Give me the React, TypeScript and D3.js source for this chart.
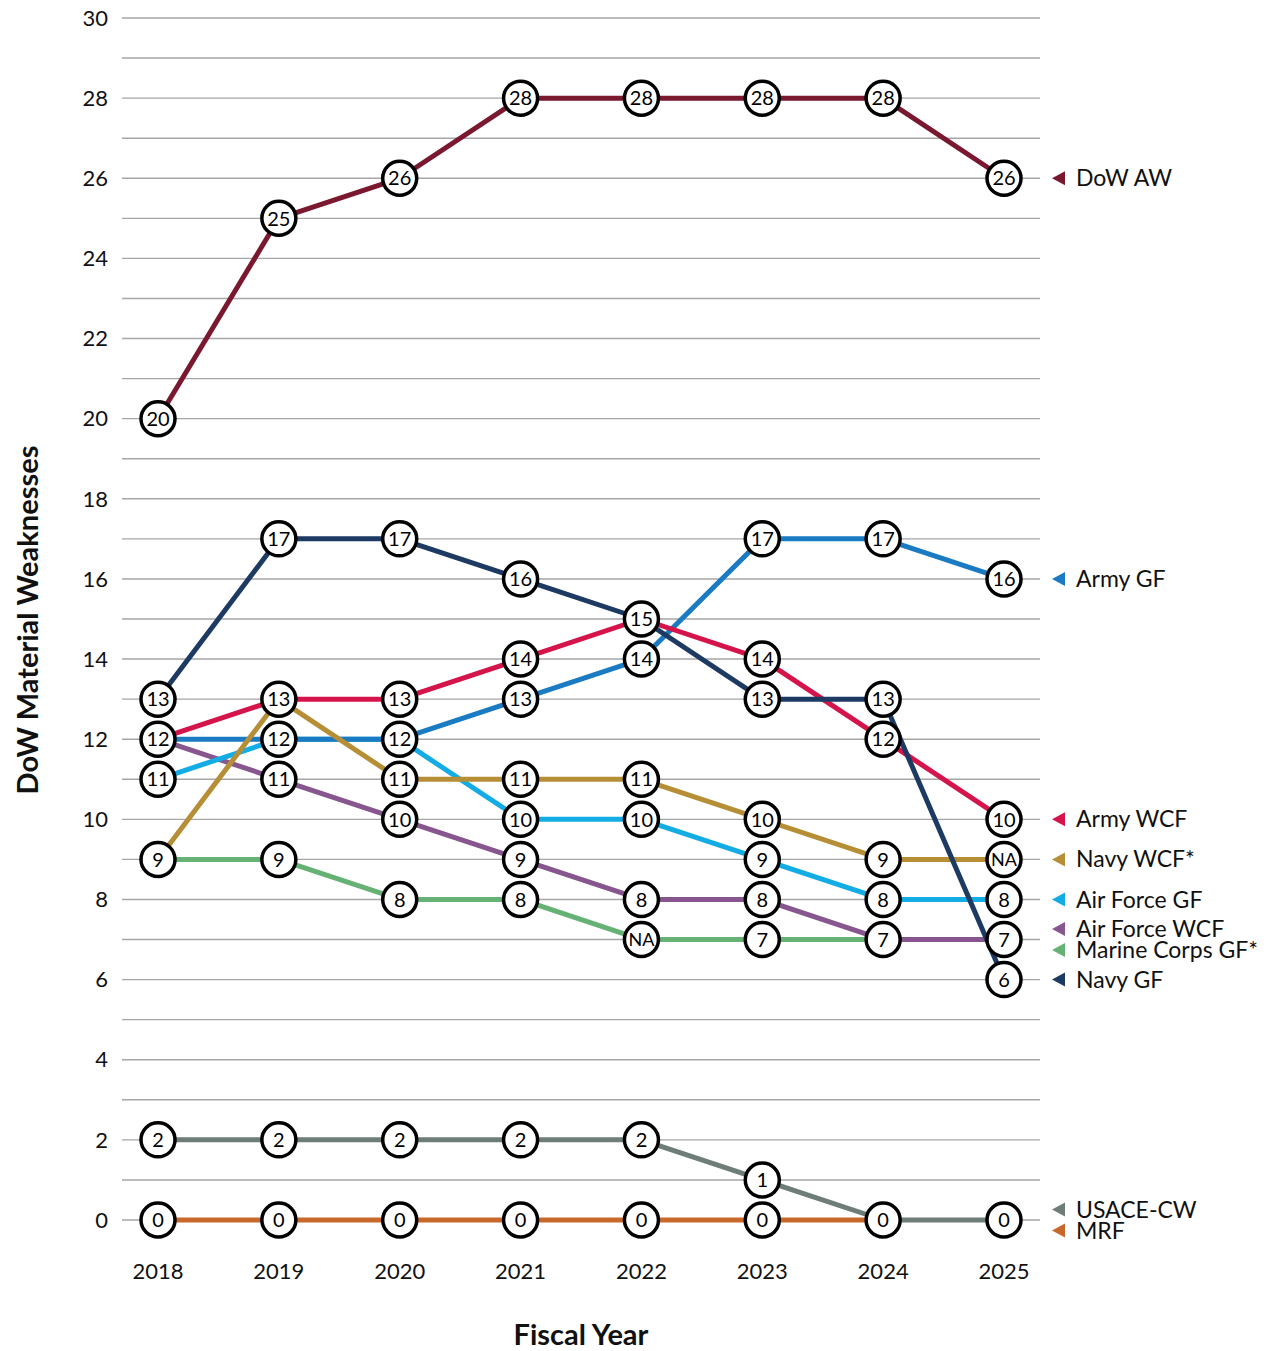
import { useMemo } from 'react';
import * as d3 from 'd3';

const years = [2018, 2019, 2020, 2021, 2022, 2023, 2024, 2025];

// drawn bottom to top
const seriesNames = [
  'USACE-CW',
  'MRF',
  'Marine Corps GF*',
  'Air Force WCF',
  'Air Force GF',
  'Army GF',
  'Navy WCF*',
  'Army WCF',
  'Navy GF',
  'DoW AW',
];

const seriesColors = [
  '#6E7D78',
  '#C8692B',
  '#66B275',
  '#87568E',
  '#13ACE4',
  '#1A7BC2',
  '#B58E36',
  '#D5144B',
  '#1D3A63',
  '#7A1830',
];

const seriesValues: (number | null)[][] = [
  [2, 2, 2, 2, 2, 1, 0, 0],
  [0, 0, 0, 0, 0, 0, 0, null],
  [9, 9, 8, 8, 7, 7, 7, null],
  [12, 11, 10, 9, 8, 8, 7, 7],
  [11, 12, 12, 10, 10, 9, 8, 8],
  [12, 12, 12, 13, 14, 17, 17, 16],
  [9, 13, 11, 11, 11, 10, 9, 9],
  [12, 13, 13, 14, 15, 14, 12, 10],
  [13, 17, 17, 16, 15, 13, 13, 6],
  [20, 25, 26, 28, 28, 28, 28, 26],
];

// points shown as "NA" instead of a number
const naPoints = [
  { series: 'Marine Corps GF*', year: 2022 },
  { series: 'Navy WCF*', year: 2025 },
];

// legend order, top to bottom
const legendOrder = [
  'DoW AW',
  'Army GF',
  'Army WCF',
  'Navy WCF*',
  'Air Force GF',
  'Air Force WCF',
  'Marine Corps GF*',
  'Navy GF',
  'USACE-CW',
  'MRF',
];

const yTicks = d3.range(0, 31, 2);
const gridValues = d3.range(0, 31, 1);

const W = 1267;
const H = 1351;
const FONT = 'Lato, "Open Sans", sans-serif';

export default function App() {
  const x = d3.scalePoint<number>().domain(years).range([158, 1004]);
  const y = d3.scaleLinear().domain([0, 30]).range([1220, 18]);

  const line = d3
    .line<number | null>()
    .defined((d) => d !== null)
    .x((_, i) => x(years[i]) as number)
    .y((d) => y(d as number));

  const markers = useMemo(() => {
    const seen = new Map<string, { year: number; value: number; label: string }>();
    seriesNames.forEach((name, si) => {
      seriesValues[si].forEach((v, i) => {
        if (v === null) return;
        const key = `${years[i]}-${v}`;
        const na = naPoints.some((p) => p.series === name && p.year === years[i]);
        const label = na ? 'NA' : String(v);
        if (!seen.has(key) || na) seen.set(key, { year: years[i], value: v, label });
      });
    });
    return [...seen.values()];
  }, []);

  const legend = useMemo(() => {
    const lastVal = (name: string) => {
      const vals = seriesValues[seriesNames.indexOf(name)].filter((v) => v !== null) as number[];
      return vals[vals.length - 1];
    };
    const groups = d3.group(legendOrder, lastVal);
    const out: { name: string; color: string; ly: number }[] = [];
    groups.forEach((names, v) => {
      const spacing = 21;
      names.forEach((n, k) => {
        out.push({
          name: n,
          color: seriesColors[seriesNames.indexOf(n)],
          ly: y(v) + (k - (names.length - 1) / 2) * spacing,
        });
      });
    });
    return out;
  }, []);

  return (
    <div style={{ position: 'absolute', left: 0, top: 0 }}>
      <svg width={W} height={H} style={{ display: 'block', background: '#fff' }} fontFamily={FONT}>
        {/* Grid */}
        {gridValues.map((g) => (
          <line key={g} x1={122} x2={1040} y1={y(g)} y2={y(g)} stroke="#A6A6A6" strokeWidth={1.4} />
        ))}

        {/* Y ticks */}
        {yTicks.map((t) => (
          <text key={t} x={108} y={y(t)} dy="0.35em" textAnchor="end" fontSize={22} fill="#111">
            {t}
          </text>
        ))}

        {/* X ticks */}
        {years.map((yr) => (
          <text key={yr} x={x(yr)} y={1271} dy="0.35em" textAnchor="middle" fontSize={22} fill="#111">
            {yr}
          </text>
        ))}

        {/* Axis titles */}
        <text
          transform={`translate(28,620) rotate(-90)`}
          textAnchor="middle"
          dy="0.35em"
          fontSize={29}
          fontWeight="bold"
          fill="#111"
        >
          DoW Material Weaknesses
        </text>
        <text x={581} y={1335} dy="0.35em" textAnchor="middle" fontSize={29} fontWeight="bold" fill="#111">
          Fiscal Year
        </text>

        {/* Lines */}
        {seriesNames.map((name, si) => (
          <path
            key={name}
            d={line(seriesValues[si]) || ''}
            fill="none"
            stroke={seriesColors[si]}
            strokeWidth={5}
            strokeLinejoin="round"
          />
        ))}

        {/* Markers */}
        {markers.map((m) => (
          <g key={`${m.year}-${m.value}`} transform={`translate(${x(m.year)},${y(m.value)})`}>
            <circle r={17} fill="#fff" stroke="#000" strokeWidth={3.5} />
            <text
              textAnchor="middle"
              dy="0.36em"
              fontSize={m.label === 'NA' ? 18 : 20}
              fill="#000"
            >
              {m.label}
            </text>
          </g>
        ))}

        {/* Legend */}
        {legend.map((l) => (
          <g key={l.name} transform={`translate(0,${l.ly})`}>
            <path d="M1052,0 L1065,-7 L1065,7 Z" fill={l.color} />
            <text x={1076} dy="0.35em" fontSize={23} fill="#111">
              {l.name}
            </text>
          </g>
        ))}
      </svg>
    </div>
  );
}
